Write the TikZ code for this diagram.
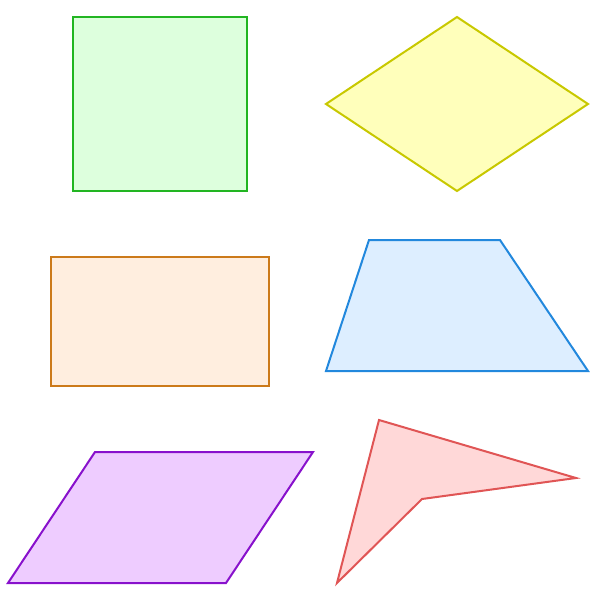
\documentclass[tikz,border=0pt]{standalone}
\usepackage{tikz}
\definecolor{gS}{HTML}{22B522}\definecolor{gF}{HTML}{DDFFDD}
\definecolor{yS}{HTML}{C8C800}\definecolor{yF}{HTML}{FFFFBB}
\definecolor{oS}{HTML}{CC7A1A}\definecolor{oF}{HTML}{FFEEDF}
\definecolor{bS}{HTML}{2288DD}\definecolor{bF}{HTML}{DDEEFF}
\definecolor{pS}{HTML}{8811CC}\definecolor{pF}{HTML}{EECCFF}
\definecolor{rS}{HTML}{E05555}\definecolor{rF}{HTML}{FFD8D8}
\tikzset{shp/.style={line width=2pt, line join=miter}}
\begin{document}
\begin{tikzpicture}[x=1pt,y=-1pt]
\useasboundingbox (0,0) rectangle (600,600);
\draw[shp,draw=gS,fill=gF] (73,17) rectangle (247,191);
\draw[shp,draw=yS,fill=yF] (457,17) -- (588,104) -- (457,191) -- (326,104) -- cycle;
\draw[shp,draw=oS,fill=oF] (51,257) rectangle (269,386);
\draw[shp,draw=bS,fill=bF] (369,240) -- (500,240) -- (588,371) -- (326,371) -- cycle;
\draw[shp,draw=pS,fill=pF] (95,452) -- (313,452) -- (226,583) -- (8,583) -- cycle;
\draw[shp,draw=rS,fill=rF] (379,420) -- (576,478) -- (422,499) -- (337,583) -- cycle;
\end{tikzpicture}
\end{document}
